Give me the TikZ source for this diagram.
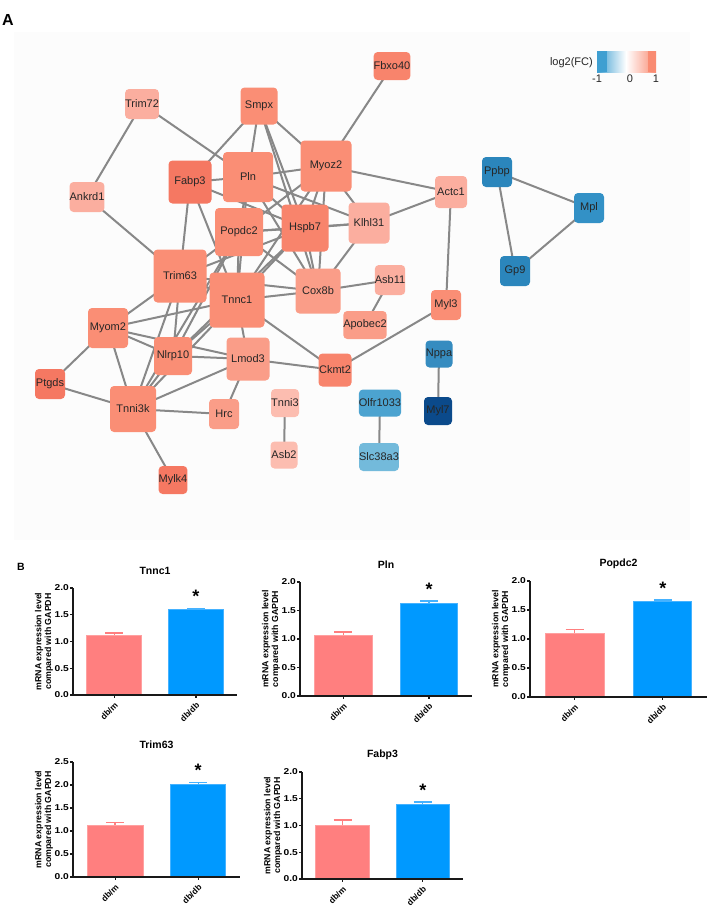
\documentclass[tikz,border=0pt]{standalone}
\usepackage{fontspec}
\setmainfont{Liberation Sans}
\pgfdeclarelayer{bglayer}
\pgfdeclarelayer{edgelayer}
\pgfsetlayers{bglayer,edgelayer,main}
\definecolor{edgec}{HTML}{888888}
\definecolor{cM}{HTML}{FA8E75}
\definecolor{cMD}{HTML}{F8846C}
\definecolor{cD}{HTML}{F57862}
\definecolor{cL1}{HTML}{FBAE9F}
\definecolor{cL2}{HTML}{FA9D88}
\definecolor{cL3}{HTML}{FCBDB0}
\definecolor{bPpbp}{HTML}{2B86BC}
\definecolor{bMpl}{HTML}{3391C6}
\definecolor{bNppa}{HTML}{368CC0}
\definecolor{bMyl7}{HTML}{0B4A8B}
\definecolor{bOlfr}{HTML}{4CA3D0}
\definecolor{bSlc}{HTML}{73BADB}
\definecolor{legblue}{HTML}{3F9FD1}
\definecolor{legred}{HTML}{F98B72}
\definecolor{pinkfill}{HTML}{FF7F7F}
\definecolor{pinkedge}{HTML}{FFA0A0}
\definecolor{bluefill}{HTML}{0099FF}
\definecolor{blueedge}{HTML}{45B2FF}
\definecolor{netbg}{HTML}{FCFCFC}
\tikzset{
  gene/.style={rounded corners=4pt, minimum width=#1, minimum height=#1, inner sep=0pt,
    font=\fontsize{11}{12}\selectfont, text=black!85},
  gedge/.style={draw=edgec, line width=2pt},
  pinkbar/.style={fill=pinkfill, draw=pinkedge, line width=1pt},
  bluebar/.style={fill=bluefill, draw=blueedge, line width=1pt},
  pinkerr/.style={draw=pinkfill, line width=1.4pt},
  blueerr/.style={draw=blueedge, line width=1.4pt},
  axisline/.style={draw=black!90, line width=1.2pt},
  ticklab/.style={anchor=east, inner sep=0pt, xscale=1.2, font=\bfseries\fontsize{8.5}{9}\selectfont},
  ylab/.style={rotate=90, align=center, inner sep=0pt, font=\bfseries\fontsize{8.8}{9.8}\selectfont},
  xlab/.style={rotate=45, anchor=east, inner sep=0pt, font=\bfseries\fontsize{8.5}{9}\selectfont},
  ctitle/.style={inner sep=0pt, font=\bfseries\fontsize{10.5}{12}\selectfont},
  starlab/.style={inner sep=0pt, font=\bfseries\fontsize{18}{18}\selectfont},
  leglab/.style={inner sep=0pt, font=\fontsize{11}{12}\selectfont, text=black!85},
  panellab/.style={inner sep=0pt, font=\bfseries\fontsize{#1}{#1}\selectfont}
}
% #1 axis x, #2 zero y, #3 px per unit, #4 axis width, #5 ymax, #6 v1, #7 e1, #8 v2, #9 e2
\newcommand{\mychart}[9]{%
  \pgfmathsetmacro{\hA}{-#6*#3}\pgfmathsetmacro{\eA}{-#7*#3}%
  \pgfmathsetmacro{\hB}{-#8*#3}\pgfmathsetmacro{\eB}{-#9*#3}%
  \pgfmathsetmacro{\ctop}{-#5*#3}%
  \pgfmathsetmacro{\xa}{0.085*#4}\pgfmathsetmacro{\xb}{0.42*#4}%
  \pgfmathsetmacro{\xc}{0.585*#4}\pgfmathsetmacro{\xd}{0.915*#4}%
  \pgfmathsetmacro{\ma}{(\xa+\xb)/2}\pgfmathsetmacro{\mb}{(\xc+\xd)/2}%
  \begin{scope}[shift={(#1,#2)}]
    \draw[pinkerr] (\ma,\hA) -- (\ma,\eA) (\ma-9,\eA) -- (\ma+9,\eA);
    \draw[blueerr] (\mb,\hB) -- (\mb,\eB) (\mb-9,\eB) -- (\mb+9,\eB);
    \draw[pinkbar] (\xa,0) rectangle (\xb,\hA);
    \draw[bluebar] (\xc,0) rectangle (\xd,\hB);
    \draw[axisline] (0,\ctop) -- (0,0) -- (#4,0);
    \draw[axisline] (\ma,0) -- (\ma,3) (\mb,0) -- (\mb,3);
    \foreach \v in {0,0.5,...,#5} {
      \draw[axisline] (-3,{-\v*#3}) -- (0,{-\v*#3});
      \node[ticklab] at (-4,{-\v*#3}) {\pgfmathprintnumber[fixed,fixed zerofill,precision=1,assume math mode=true]{\v}};
    }
    \node[ylab] at (-29,{\ctop/2}) {mRNA expression level\\compared with GAPDH};
    \node[xlab] at (\ma+2,9) {db/m};
    \node[xlab] at (\mb+2,9) {db/db};
    \node[ctitle] at ({#4/2},\ctop-17) {\charttitle};
    \node[starlab] at (\mb,\eB-12) {*};
  \end{scope}}
\begin{document}
\begin{tikzpicture}[x=1pt,y=-1pt]
\useasboundingbox (0,0) rectangle (708,908);
\begin{pgfonlayer}{bglayer}
  \fill[white] (0,0) rectangle (708,908);
  \fill[netbg] (14,32) rectangle (690,540);
\end{pgfonlayer}
\node[panellab=16] (labA) at (8,20) {A};
\node[panellab=10.5] (labB) at (21,567) {B};
% legend
\shade[left color=legblue, right color=white] (597,51) rectangle (626,72);
\shade[left color=white, right color=legred] (626,51) rectangle (656,72);
\fill[legblue] (597,51) rectangle (607,72);
\fill[legred] (648,51) rectangle (656,72);
\node[leglab, anchor=east] (legt) at (593,63) {log2(FC)};
\node[leglab] (lm1) at (597,79) {-1};
\node[leglab] (l0) at (630,79) {0};
\node[leglab] (l1) at (656,79) {1};
% genes
\node[gene=30, fill=cL1] (Trim72) at (142,104) {Trim72};
\node[gene=37, fill=cM] (Smpx) at (259,106) {Smpx};
\node[gene=28, fill=cMD] (Fbxo40) at (392,66) {Fbxo40};
\node[gene=43, fill=cD] (Fabp3) at (190,182) {Fabp3};
\node[gene=50, fill=cM] (Pln) at (248,177) {Pln};
\node[gene=51, fill=cM] (Myoz2) at (326,166) {Myoz2};
\node[gene=30, fill=cL1] (Ankrd1) at (87,197) {Ankrd1};
\node[gene=48, fill=cM] (Popdc2) at (239,232) {Popdc2};
\node[gene=47, fill=cMD] (Hspb7) at (305,228) {Hspb7};
\node[gene=41, fill=cL1] (Klhl31) at (369,223) {Klhl31};
\node[gene=32, fill=cL1] (Actc1) at (451,192) {Actc1};
\node[gene=30, fill=bPpbp] (Ppbp) at (497,172) {Ppbp};
\node[gene=30, fill=bMpl] (Mpl) at (589,208) {Mpl};
\node[gene=30, fill=bPpbp] (Gp9) at (515,271) {Gp9};
\node[gene=53, fill=cM] (Trim63) at (180,276) {Trim63};
\node[gene=55, fill=cM] (Tnnc1) at (237,300) {Tnnc1};
\node[gene=45, fill=cL2] (Cox8b) at (318,291) {Cox8b};
\node[gene=30, fill=cL1] (Asb11) at (390,280) {Asb11};
\node[gene=28, fill=cL2] (Apobec2) at (365,325) {Apobec2};
\node[gene=30, fill=cM] (Myl3) at (446,305) {Myl3};
\node[gene=40, fill=cM] (Myom2) at (108,328) {Myom2};
\node[gene=38, fill=cM] (Nlrp10) at (173,356) {Nlrp10};
\node[gene=43, fill=cL2] (Lmod3) at (248,359) {Lmod3};
\node[gene=33, fill=cMD] (Ckmt2) at (335,370) {Ckmt2};
\node[gene=30, fill=cD] (Ptgds) at (50,384) {Ptgds};
\node[gene=46, fill=cM] (Tnni3k) at (133,409) {Tnni3k};
\node[gene=30, fill=cL2] (Hrc) at (224,414) {Hrc};
\node[gene=28, fill=cL3] (Tnni3) at (285,403) {Tnni3};
\node[gene=27, fill=cL3] (Asb2) at (284,455) {Asb2};
\node[gene=28, fill=cD] (Mylk4) at (173,480) {Mylk4};
\node[gene=27, fill=bNppa] (Nppa) at (439,354) {Nppa};
\node[gene=28, fill=bMyl7] (Myl7) at (438,411) {Myl7};
\node[gene=27, fill=bOlfr] (Olfr1033) at (380,403) {Olfr1033};
\node[gene=28, fill=bSlc] (Slc38a3) at (379,457) {Slc38a3};
\begin{pgfonlayer}{edgelayer}
\foreach \a/\b in {Trim72/Ankrd1, Trim72/Pln, Ankrd1/Trim63, Smpx/Fabp3, Smpx/Pln,
  Smpx/Myoz2, Smpx/Hspb7, Smpx/Cox8b, Fbxo40/Myoz2, Myoz2/Actc1, Myoz2/Pln,
  Myoz2/Klhl31, Myoz2/Hspb7, Myoz2/Popdc2, Myoz2/Cox8b, Myoz2/Tnnc1, Klhl31/Actc1,
  Klhl31/Hspb7, Klhl31/Cox8b, Pln/Klhl31, Fabp3/Pln, Fabp3/Hspb7, Fabp3/Trim63,
  Fabp3/Tnnc1, Pln/Popdc2, Pln/Hspb7, Pln/Tnnc1, Pln/Cox8b, Popdc2/Hspb7,
  Popdc2/Trim63, Popdc2/Tnnc1, Popdc2/Klhl31, Popdc2/Cox8b, Hspb7/Cox8b, Hspb7/Tnnc1,
  Hspb7/Trim63, Trim63/Tnnc1, Trim63/Myom2, Trim63/Nlrp10, Trim63/Tnni3k, Trim63/Cox8b,
  Tnnc1/Cox8b, Tnnc1/Myom2, Tnnc1/Nlrp10, Tnnc1/Lmod3, Tnnc1/Ckmt2, Tnnc1/Tnni3k,
  Myom2/Nlrp10, Myom2/Lmod3, Myom2/Tnni3k, Myom2/Ptgds, Nlrp10/Lmod3, Nlrp10/Tnni3k,
  Lmod3/Ckmt2, Lmod3/Tnni3k, Lmod3/Hrc, Tnni3k/Ptgds, Tnni3k/Hrc, Tnni3k/Mylk4,
  Ckmt2/Myl3, Actc1/Myl3, Cox8b/Asb11, Asb11/Apobec2, Tnni3/Asb2, Olfr1033/Slc38a3,
  Nppa/Myl7, Ppbp/Mpl, Ppbp/Gp9, Mpl/Gp9, Popdc2/Nlrp10, Hspb7/Nlrp10, Popdc2/Tnni3k}
  \draw[gedge] (\a.center) -- (\b.center);
\end{pgfonlayer}
% panel B
\def\charttitle{Tnnc1}\mychart{73}{695}{53.5}{164}{2.0}{1.11}{1.16}{1.59}{1.62}
\def\charttitle{Pln}\mychart{300}{696}{57}{172}{2.0}{1.07}{1.12}{1.63}{1.67}
\def\charttitle{Popdc2}\mychart{530}{697}{58}{177}{2.0}{1.10}{1.16}{1.64}{1.67}
\def\charttitle{Trim63}\mychart{73}{877}{46}{167}{2.5}{1.11}{1.19}{2.02}{2.06}
\def\charttitle{Fabp3}\mychart{302}{879}{53.5}{161}{2.0}{1.00}{1.10}{1.40}{1.44}
\end{tikzpicture}
\end{document}
